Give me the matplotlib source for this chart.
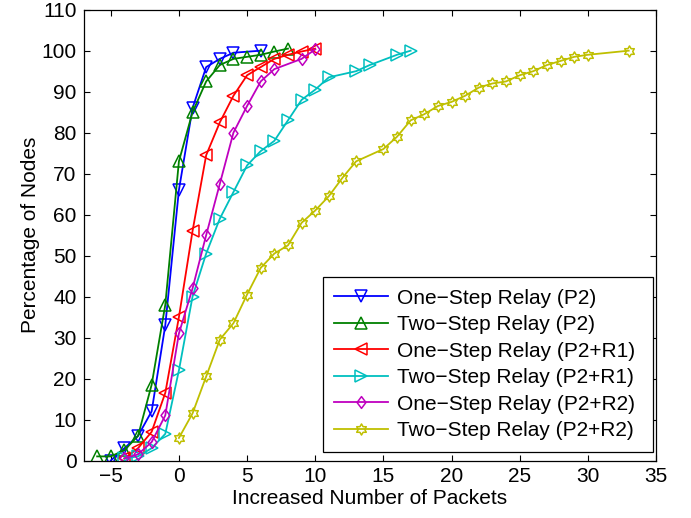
import numpy as np
import matplotlib
matplotlib.use("Agg")
import matplotlib.pyplot as plt
from matplotlib.path import Path

plt.rcParams['font.family'] = ['Liberation Sans', 'DejaVu Sans']

labels = ["One\u2212Step Relay (P2)", "Two\u2212Step Relay (P2)",
          "One\u2212Step Relay (P2+R1)", "Two\u2212Step Relay (P2+R1)",
          "One\u2212Step Relay (P2+R2)", "Two\u2212Step Relay (P2+R2)"]

x_one_p2 = [-5, -4, -3, -2, -1, 0, 1, 2, 3, 4, 6]
y_one_p2 = [0, 3, 6, 12, 33, 66, 86, 96, 98, 99.5, 100]

x_two_p2 = [-6, -5, -4, -3, -2, -1, 0, 1, 2, 3, 4, 5, 6, 7, 8]
y_two_p2 = [1, 1, 2.5, 6, 18.5, 38, 73, 85, 92.5, 96.5, 98, 98.5, 99, 99.8, 100.5]

x_one_r1 = [-4, -3, -2, -1, 0, 1, 2, 3, 4, 5, 6, 7, 8, 9, 10]
y_one_r1 = [0.5, 3, 7, 16.5, 35, 56, 74.5, 82.5, 89, 94, 96, 98, 99, 99.8, 100.5]

x_two_r1 = [-4, -3, -2, -1, 0, 1, 2, 3, 4, 5, 6, 7, 8, 9, 10, 11, 13, 14, 16, 17]
y_two_r1 = [0.5, 1, 3, 6.5, 22, 40, 50.5, 59, 65.5, 72, 75.5, 78, 83, 88, 90.5, 93.5,
            95, 96.5, 99, 100]

x_one_r2 = [-4, -3, -2, -1, 0, 1, 2, 3, 4, 5, 6, 7, 9, 10]
y_one_r2 = [0.5, 1.5, 4.5, 11, 31, 42, 55, 67.5, 80, 86.5, 92.5, 95.5, 98, 100.3]

x_two_r2 = [0, 1, 2, 3, 4, 5, 6, 7, 8, 9, 10, 11, 12, 13, 15, 16, 17, 18, 19, 20,
            21, 22, 23, 24, 25, 26, 27, 28, 29, 30, 33]
y_two_r2 = [5.5, 11.5, 20.5, 29.5, 33.5, 40.5, 47, 50.5, 52.5, 58, 61, 64.5, 69, 73,
            76, 79, 83, 84.5, 86.5, 87.5, 89, 91, 92, 92.5, 94, 95, 96.5, 97.5, 98.5,
            99, 100]

xticks = list(range(-5, 36, 5))
yticks = list(range(0, 111, 10))

# custom markers
diamond = Path([(0, 1), (0.75, 0), (0, -1), (-0.75, 0), (0, 1)],
               [Path.MOVETO, Path.LINETO, Path.LINETO, Path.LINETO, Path.CLOSEPOLY])
ang = np.deg2rad(90 + 30 * np.arange(12))
rad = np.where(np.arange(12) % 2 == 0, 1.0, 1 / np.sqrt(3))
verts = list(zip(rad * np.cos(ang), rad * np.sin(ang))) + [(0, 1)]
hexagram = Path(verts, [Path.MOVETO] + [Path.LINETO] * 11 + [Path.CLOSEPOLY])

series = [
    (x_one_p2, y_one_p2, (0, 0, 1), 'v', 9),
    (x_two_p2, y_two_p2, (0, 0.5, 0), '^', 9),
    (x_one_r1, y_one_r1, (1, 0, 0), '<', 9),
    (x_two_r1, y_two_r1, (0, 0.75, 0.75), '>', 9),
    (x_one_r2, y_one_r2, (0.75, 0, 0.75), diamond, 8.5),
    (x_two_r2, y_two_r2, (0.75, 0.75, 0), hexagram, 8),
]

fig = plt.figure(figsize=(6.91, 5.18), dpi=100)
ax = fig.add_axes([83.5 / 691, 1 - 460.5 / 518, (656 - 83.5) / 691, (460.5 - 9.7) / 518])

for (xs, ys, c, m, ms), lab in zip(series, labels):
    ax.plot(xs, ys, color=c, marker=m, markersize=ms, markerfacecolor='none',
            markeredgecolor=c, markeredgewidth=1.1, linewidth=1.3, label=lab)

ax.set_xlim(-7, 35)
ax.set_ylim(0, 110)
ax.set_xticks(xticks)
ax.set_yticks(yticks)
ax.tick_params(direction='in', length=4.5, width=0.8, top=True, right=True,
               labelsize=15, pad=5)
for s in ax.spines.values():
    s.set_linewidth(0.9)
ax.set_xlabel("Increased Number of Packets", fontsize=15, labelpad=2)
ax.set_ylabel("Percentage of Nodes", fontsize=15, labelpad=1)

ax_w = 656 - 83.5
ax_h = 460.5 - 9.7
x0 = (322.7 - 83.5) / ax_w
w = (653.3 - 322.7) / ax_w
y0 = (460.5 - 451.7) / ax_h
h = (451.7 - 281.7) / ax_h
leg = ax.legend(loc='lower left', bbox_to_anchor=(x0, y0, w, h), mode='expand',
                borderaxespad=0, fontsize=15, handlelength=2.6, handletextpad=0.4,
                labelspacing=0.36, borderpad=0.55, fancybox=False, framealpha=1,
                edgecolor='black')
leg.get_frame().set_linewidth(0.9)

fig.savefig("out.png", dpi=100)
